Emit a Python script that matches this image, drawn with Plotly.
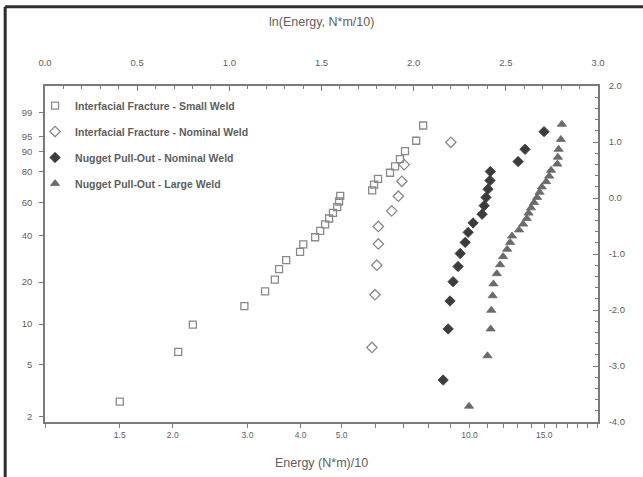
import numpy as np
import plotly.graph_objects as go

# Weld failure energies, (N*m)/10, with cumulative failure probability (%)
small_if_energy = [1.50, 2.06, 2.23, 2.95, 3.30, 3.48, 3.56, 3.70, 3.99, 4.06,
                   4.33, 4.45, 4.57, 4.67, 4.77, 4.88, 4.93, 4.96, 5.90, 5.96,
                   6.09, 6.50, 6.68, 6.86, 7.05, 7.49, 7.78]
small_if_pct = [2.6, 6.2, 9.9, 13.5, 17.2, 20.8, 24.5, 28.1, 31.8, 35.4,
                39.1, 42.7, 46.4, 50.0, 53.6, 57.3, 60.9, 64.6, 68.2, 71.9,
                75.5, 79.2, 82.8, 86.5, 90.1, 93.8, 97.4]

nominal_if_energy = [5.89, 5.99, 6.05, 6.10, 6.10, 6.56, 6.80, 6.93, 7.02, 9.04]
nominal_if_pct = [6.7, 16.3, 26.0, 35.6, 45.2, 54.8, 64.4, 74.0, 83.7, 93.3]

nominal_po_energy = [8.67, 8.91, 9.00, 9.15, 9.40, 9.51, 9.77, 9.93, 10.20, 10.71,
                     10.83, 10.94, 11.06, 11.18, 11.20, 13.02, 13.52, 14.99]
nominal_po_pct = [3.8, 9.2, 14.7, 20.1, 25.5, 31.0, 36.4, 41.8, 47.3, 52.7,
                  58.2, 63.6, 69.0, 74.5, 79.9, 85.3, 90.8, 96.2]

large_po_energy = [9.98, 11.03, 11.22, 11.26, 11.34, 11.39, 11.60, 11.81, 12.00, 12.27,
                   12.47, 12.60, 13.09, 13.38, 13.65, 13.78, 13.97, 14.20, 14.43, 14.63,
                   14.81, 15.16, 15.41, 15.57, 16.11, 16.16, 16.22, 16.42, 16.51]
large_po_pct = [2.4, 5.8, 9.2, 12.6, 16.0, 19.4, 22.8, 26.2, 29.6, 33.0,
                36.4, 39.8, 43.2, 46.6, 50.0, 53.4, 56.8, 60.2, 63.6, 67.0,
                70.4, 73.8, 77.2, 80.6, 84.0, 87.4, 90.8, 94.2, 97.6]

series_names = ["Interfacial Fracture - Small Weld",
                "Interfacial Fracture - Nominal Weld",
                "Nugget Pull-Out - Nominal Weld",
                "Nugget Pull-Out - Large Weld"]

prob_ticks = [2, 5, 10, 20, 40, 60, 80, 90, 95, 99]
energy_major = [1.5, 2, 3, 4, 5, 10, 15]
energy_minor = [1, 6, 7, 8, 9, 11, 12, 13, 14, 16, 17, 18, 19, 20]
ln_ticks = [0.0, 0.5, 1.0, 1.5, 2.0, 2.5, 3.0]
weib_ticks = [2, 1, 0, -1, -2, -3, -4]


def weibull(pct):
    """Weibull probability scale: ln(-ln(1 - F))."""
    f = np.asarray(pct, dtype=float) / 100.0
    return np.log(-np.log(1.0 - f))


FONT = "Liberation Sans, Arial, sans-serif"
TXT = "#5e5e5e"
AX = "#7a7a7a"

fig = go.Figure()

styles = [
    dict(symbol="square-open", size=7, color="#8a8a8a", line=dict(width=1.3, color="#8a8a8a")),
    dict(symbol="diamond-open", size=8, color="#8a8a8a", line=dict(width=1.3, color="#8a8a8a")),
    dict(symbol="diamond", size=8, color="#3c3c3c", line=dict(width=0.8, color="#3c3c3c")),
    dict(symbol="triangle-up", size=8, color="#6a6a6a", line=dict(width=0.8, color="#6a6a6a")),
]
data = [(small_if_energy, small_if_pct), (nominal_if_energy, nominal_if_pct),
        (nominal_po_energy, nominal_po_pct), (large_po_energy, large_po_pct)]

# Probability plot on the energy (log) / percent axes
for i, ((e, p), name, st) in enumerate(zip(data, series_names, styles)):
    fig.add_trace(go.Scatter(x=e, y=weibull(p), mode="markers", name=name,
                             legendgroup=f"g{i}", marker=st,
                             xaxis="x", yaxis="y"))

# Same points in ln(energy) / ln(-ln(1-F)) units so the top and right scales render
for (e, p) in data:
    fig.add_trace(go.Scatter(x=np.log(e), y=weibull(p), mode="markers",
                             marker=dict(opacity=0), showlegend=False,
                             hoverinfo="skip", xaxis="x2", yaxis="y2"))

ln_e3 = np.log10(np.exp(3.0))

fig.update_layout(
    width=643, height=477,
    margin=dict(l=45, r=45, t=86, b=55),
    paper_bgcolor="white", plot_bgcolor="white",
    font=dict(family=FONT, color=TXT, size=9),
    showlegend=True,
    legend=dict(x=-0.018, y=0.985, xanchor="left", yanchor="top",
                bgcolor="rgba(0,0,0,0)",
                font=dict(size=10.5, color=TXT, weight="bold"),
                tracegroupgap=7),
    xaxis=dict(type="log", range=[0, ln_e3], showgrid=False, zeroline=False,
               showline=True, linecolor=AX, linewidth=1.5,
               tickmode="array",
               tickvals=energy_major + energy_minor,
               ticktext=[f"{v:.1f}" for v in energy_major] + [""] * len(energy_minor),
               ticks="outside", ticklen=4, tickcolor=AX, tickwidth=1.2,
               tickfont=dict(size=8.5, color=TXT)),
    xaxis2=dict(overlaying="x", side="top", range=[0, 3], showgrid=False,
                zeroline=False, showline=True, linecolor=AX, linewidth=1.5,
                tickmode="array", tickvals=ln_ticks,
                ticktext=[f"{v:.1f}" for v in ln_ticks],
                ticks="inside", ticklen=5, tickcolor=AX, tickwidth=1.2,
                minor=dict(dtick=0.1, ticks="inside", ticklen=3, tickcolor=AX),
                ticklabelstandoff=14, tickfont=dict(size=9.5, color=TXT)),
    yaxis=dict(range=[-4, 2], showgrid=False, zeroline=False, showline=True,
               linecolor=AX, linewidth=1.5, tickmode="array",
               tickvals=list(weibull(prob_ticks)),
               ticktext=[str(v) for v in prob_ticks],
               ticks="outside", ticklen=4, tickcolor=AX, tickwidth=1.2,
               ticklabelstandoff=5, tickfont=dict(size=9.5, color=TXT)),
    yaxis2=dict(overlaying="y", side="right", range=[-4, 2], showgrid=False,
                zeroline=False, showline=True, linecolor=AX, linewidth=1.5,
                tickmode="array", tickvals=weib_ticks,
                ticktext=[f"{v:.1f}" for v in weib_ticks],
                ticks="inside", ticklen=5, tickcolor=AX, tickwidth=1.2,
                minor=dict(dtick=0.2, ticks="inside", ticklen=3, tickcolor=AX),
                ticklabelstandoff=7, tickfont=dict(size=9.5, color=TXT)),
    annotations=[
        dict(text="ln(Energy, N*m/10)", xref="paper", yref="paper",
             x=0.5, y=1.19, showarrow=False, xanchor="center", yanchor="middle",
             font=dict(size=12.5, color=TXT)),
        dict(text="Energy (N*m)/10", xref="paper", yref="paper",
             x=0.5, y=-0.122, showarrow=False, xanchor="center", yanchor="middle",
             font=dict(size=12.5, color=TXT)),
    ],
    shapes=[
        dict(type="line", xref="paper", yref="paper", x0=-0.072, x1=1.2,
             y0=1.236, y1=1.236, line=dict(color="#2e2e2e", width=3)),
        dict(type="line", xref="paper", yref="paper", x0=-0.072, x1=-0.072,
             y0=1.236, y1=-0.2, line=dict(color="#2e2e2e", width=3)),
    ],
)

fig.write_html("out.html")
